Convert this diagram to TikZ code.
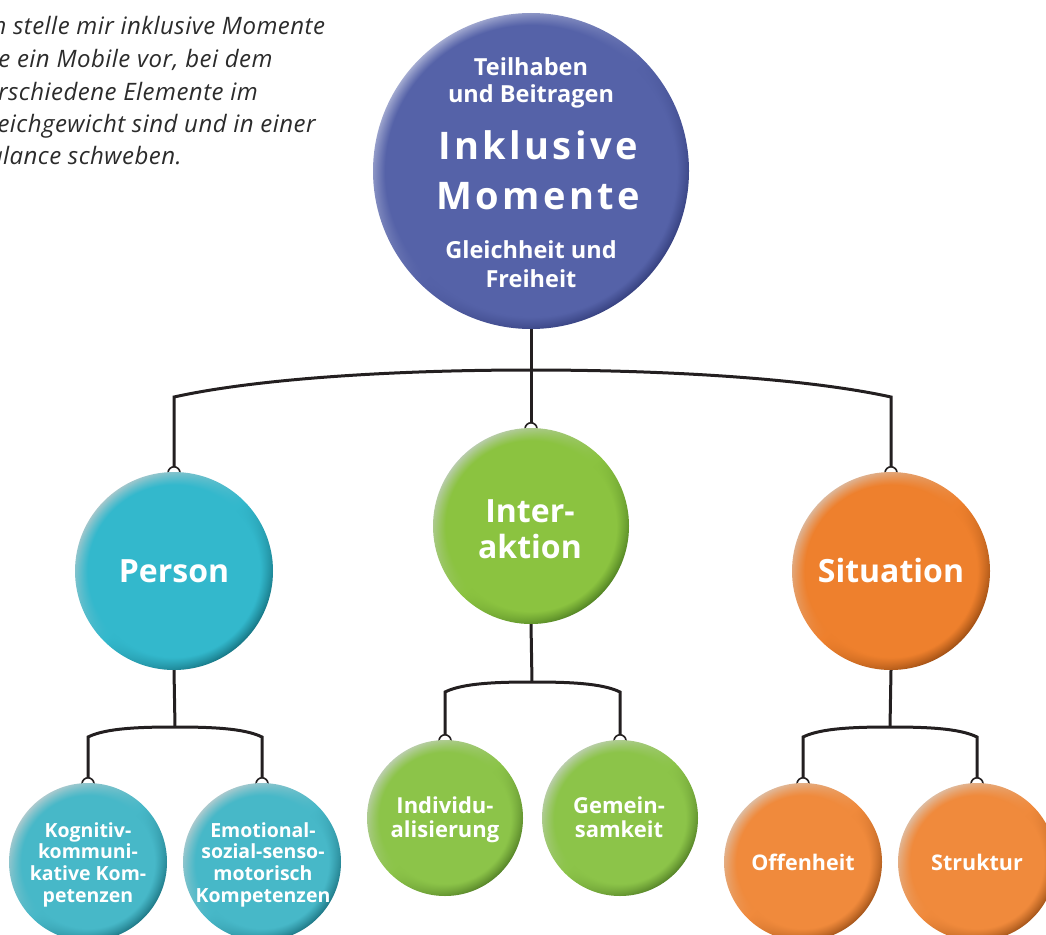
\documentclass[tikz,border=0pt]{standalone}
\usepackage{fontspec}
\setmainfont{Open Sans}
\usetikzlibrary{fadings}

\pgfdeclarelayer{back}
\pgfsetlayers{back,main}

\definecolor{ink}{HTML}{231F20}
\definecolor{prose}{HTML}{2B2B2B}
\definecolor{blueBase}{HTML}{5562A8}
\definecolor{bluePale}{HTML}{A7AED3}
\definecolor{blueDark}{HTML}{343E7C}
\definecolor{tealBase}{HTML}{33B8CC}
\definecolor{tealPale}{HTML}{A6C8CD}
\definecolor{tealDark}{HTML}{15717F}
\definecolor{greenBase}{HTML}{8BC340}
\definecolor{greenPale}{HTML}{BACDAE}
\definecolor{greenDark}{HTML}{4E7F22}
\definecolor{orangeBase}{HTML}{EE802D}
\definecolor{orangePale}{HTML}{DDB89C}
\definecolor{orangeDark}{HTML}{9A4C12}
\definecolor{sTealBase}{HTML}{47B8C8}
\definecolor{sTealPale}{HTML}{AECBCF}
\definecolor{sTealDark}{HTML}{1C7482}
\definecolor{sGreenBase}{HTML}{8CC449}
\definecolor{sGreenPale}{HTML}{BCCFAE}
\definecolor{sGreenDark}{HTML}{527F26}
\definecolor{sOrangeBase}{HTML}{F08A3C}
\definecolor{sOrangePale}{HTML}{DFBDA2}
\definecolor{sOrangeDark}{HTML}{A05218}

% soft rim: opaque inside, fading out towards the edge of the disc
\newcommand\rimfading[2]{%
  \pgfdeclareradialshading{#1shade}{\pgfpointorigin}{color(0bp)=(white); color(#2bp)=(white); color(25bp)=(black); color(50bp)=(black)}%
  \pgfdeclarefading{#1}{\pgfuseshading{#1shade}}}
\rimfading{rimL}{23}
\rimfading{rimM}{21.7}
\rimfading{rimS}{21}

% a shaded ball
\newcommand\ballat[5]{%
  \node[ball=#3, minimum size=#4*2pt] (#1) at (#2) {};
  \fill[#3Base, path fading=#5] (#1.center) circle (#4pt);}
% the small hook on top of a hanging ball
\newcommand\hang[1]{%
  \coordinate (#1-hook) at ([yshift=5pt]#1.north);
  \begin{pgfonlayer}{back}
    \draw[hookring] ([yshift=-1pt]#1.north) circle (6pt);
  \end{pgfonlayer}}

\begin{document}
\begin{tikzpicture}[x=1pt, y=-1pt,
  ball/.style={circle, inner sep=0pt, top color=#1Pale, bottom color=#1Dark, middle color=#1Base, shading angle=45},
  wire/.style={draw=ink, line width=3pt, line join=miter},
  hookring/.style={draw=ink, line width=1.6pt, fill=white},
  captxt/.style={text=white, inner sep=0pt, anchor=base},
  fA/.style={captxt, font=\fontsize{23.5}{28}\selectfont\bfseries},
  fB/.style={captxt, font=\fontsize{38}{44}\selectfont\bfseries\addfontfeatures{LetterSpace=9}},
  fC/.style={captxt, font=\fontsize{32}{38}\selectfont\bfseries},
  fD/.style={captxt, font=\fontsize{22}{26}\selectfont\bfseries},
  fE/.style={captxt, font=\fontsize{21.5}{26}\selectfont\bfseries},
  fF/.style={captxt, font=\fontsize{19.5}{22}\selectfont\bfseries},
  pr/.style={text=prose, inner sep=0pt, anchor=base west, font=\fontsize{24}{28}\selectfont\itshape\addfontfeatures{LetterSpace=2}}]
\useasboundingbox (0,0) rectangle (1046,934);

% motto in the upper left corner
\node[pr] (m1) at (-26,35)  {Ich stelle mir inklusive Momente};
\node[pr] (m2) at (-26,67.5){wie ein Mobile vor, bei dem};
\node[pr] (m3) at (-26,100) {verschiedene Elemente im};
\node[pr] (m4) at (-26,132) {Gleichgewicht sind und in einer};
\node[pr] (m5) at (-26,164) {Balance schweben.};

% balls
\ballat{top}{531,171}{blue}{158}{rimL}
\ballat{person}{174,571}{teal}{99}{rimM}
\ballat{inter}{531,526}{green}{98}{rimM}
\ballat{situation}{891,571}{orange}{99}{rimM}
\ballat{kog}{88,862}{sTeal}{79}{rimS}
\ballat{emo}{262,862}{sTeal}{79}{rimS}
\ballat{indiv}{445,818}{sGreen}{78}{rimS}
\ballat{gemein}{620,818}{sGreen}{78}{rimS}
\ballat{offen}{803,862}{sOrange}{79}{rimS}
\ballat{struktur}{977,862}{sOrange}{79}{rimS}
\foreach \b in {person,inter,situation,kog,emo,indiv,gemein,offen,struktur}{\hang{\b}}

% bar junctions
\coordinate (barL) at (174,397);
\coordinate (barC) at (531,370);
\coordinate (barR) at (891,397);
\coordinate (pL) at (88,737);
\coordinate (pC) at (175,727);
\coordinate (pR) at (262,737);
\coordinate (gL) at (445,692);
\coordinate (gC) at (532,682);
\coordinate (gR) at (620,692);
\coordinate (oL) at (803,737);
\coordinate (oC) at (890,727);
\coordinate (oR) at (977,737);

\begin{pgfonlayer}{back}
  \draw[wire] (top.south) -- (inter-hook);
  \draw[wire] (person-hook) -- (barL) .. controls (260,378) and (400,370) .. (barC)
              .. controls (662,370) and (805,378) .. (barR) -- (situation-hook);
  \draw[wire] (person.south) -- (pC);
  \draw[wire] (kog-hook) -- (pL) .. controls (106,728) and (141,727) .. (pC)
              .. controls (209,727) and (244,728) .. (pR) -- (emo-hook);
  \draw[wire] (inter.south) -- (gC);
  \draw[wire] (indiv-hook) -- (gL) .. controls (463,683) and (498,682) .. (gC)
              .. controls (567,682) and (602,683) .. (gR) -- (gemein-hook);
  \draw[wire] (situation.south) -- (oC);
  \draw[wire] (offen-hook) -- (oL) .. controls (821,728) and (856,727) .. (oC)
              .. controls (924,727) and (959,728) .. (oR) -- (struktur-hook);
\end{pgfonlayer}

% captions
\node[fA] (t1) at (531,75)  {Teilhaben};
\node[fA] (t2) at (531,102) {und Beitragen};
\node[fB] (t3) at (538,159) {Inklusive};
\node[fB] (t4) at (538,209) {Momente};
\node[fA] (t5) at (531,258) {Gleichheit und};
\node[fA] (t6) at (531,287) {Freiheit};

\node[fC] (c1) at (174,582) {Person};
\node[fC] (c2) at (530,522) {Inter-};
\node[fC] (c3) at (530,558) {aktion};
\node[fC] (c4) at (891,582) {Situation};

\node[fF] (k1) at (88,837) {Kognitiv-};
\node[fF] (k2) at (88,858) {kommuni-};
\node[fF] (k3) at (88,880) {kative Kom-};
\node[fF] (k4) at (88,902) {petenzen};
\node[fF] (e1) at (263,837) {Emotional-};
\node[fF] (e2) at (263,858) {sozial-senso-};
\node[fF] (e3) at (263,880) {motorisch};
\node[fF] (e4) at (263,902) {Kompetenzen};

\node[fD] (i1) at (445,813) {Individu-};
\node[fD] (i2) at (445,837) {alisierung};
\node[fD] (g1) at (619,813) {Gemein-};
\node[fD] (g2) at (619,837) {samkeit};

\node[fE] (o1) at (803,870) {Offenheit};
\node[fE] (s1) at (977,870) {Struktur};
\end{tikzpicture}
\end{document}
